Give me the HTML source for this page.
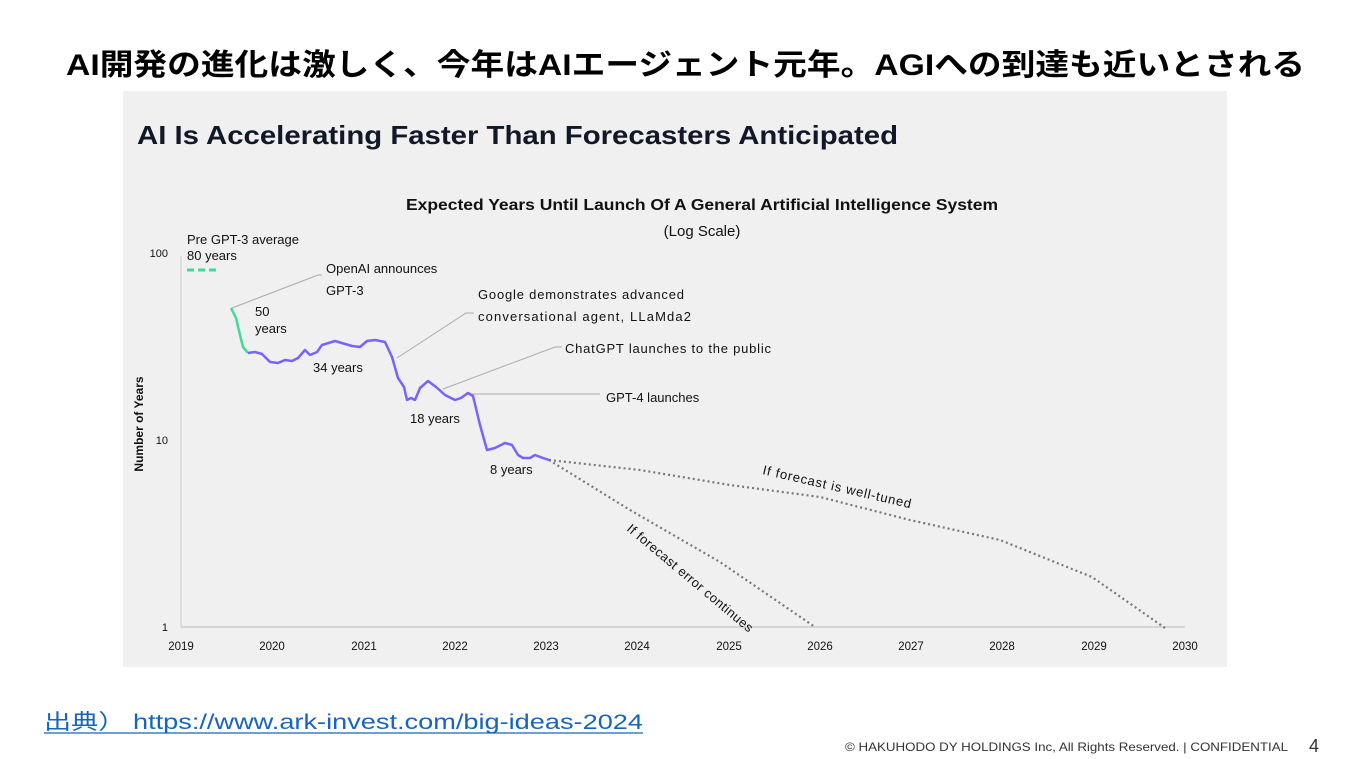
<!DOCTYPE html>
<html><head><meta charset="utf-8"><style>
body{margin:0;width:1350px;height:759px;background:#fff;position:relative;overflow:hidden;font-family:"Liberation Sans","Noto Sans CJK JP",sans-serif}
</style></head><body>
<svg style="position:absolute;left:0;top:0" width="1350" height="759" font-family="Liberation Sans, Noto Sans CJK JP, sans-serif">
<text x="66" y="75" font-size="30" font-weight="bold" fill="#000" textLength="1239" lengthAdjust="spacingAndGlyphs">AI開発の進化は激しく、今年はAIエージェント元年。AGIへの到達も近いとされる</text>
<rect x="123" y="91" width="1104" height="576" fill="#f0f0f0"/>
<text x="137" y="144" font-size="26" font-weight="bold" fill="#111827" textLength="761" lengthAdjust="spacingAndGlyphs">AI Is Accelerating Faster Than Forecasters Anticipated</text>
<text x="406" y="210" font-size="15.5" font-weight="bold" fill="#111" textLength="592" lengthAdjust="spacingAndGlyphs">Expected Years Until Launch Of A General Artificial Intelligence System</text>
<text x="702" y="236" font-size="15" fill="#111" text-anchor="middle">(Log Scale)</text>
<line x1="181" y1="256" x2="181" y2="627" stroke="#ccc" stroke-width="1"/>
<line x1="181" y1="627" x2="1185" y2="627" stroke="#ccc" stroke-width="1.5"/>
<g font-size="11" fill="#111" text-anchor="end"><text x="168" y="257">100</text><text x="168" y="444">10</text><text x="168" y="631">1</text></g>
<text transform="translate(143,424) rotate(-90)" font-size="12" font-weight="bold" fill="#111" text-anchor="middle">Number of Years</text>
<g font-size="11.5" fill="#111" text-anchor="middle">
<text x="181" y="650">2019</text><text x="272" y="650">2020</text><text x="364" y="650">2021</text><text x="455" y="650">2022</text><text x="546" y="650">2023</text><text x="637" y="650">2024</text><text x="729" y="650">2025</text><text x="820" y="650">2026</text><text x="911" y="650">2027</text><text x="1002" y="650">2028</text><text x="1094" y="650">2029</text><text x="1185" y="650">2030</text></g>
<g font-size="13" fill="#111">
<text x="187" y="244">Pre GPT-3 average</text><text x="187" y="260">80 years</text>
<text x="326" y="273">OpenAI announces</text><text x="326" y="295">GPT-3</text>
<text x="255" y="316">50</text><text x="255" y="333">years</text>
<text x="313" y="372">34 years</text>
<text x="478" y="299" textLength="206">Google demonstrates advanced</text><text x="478" y="321" textLength="213">conversational agent, LLaMda2</text>
<text x="565" y="353" textLength="206">ChatGPT launches to the public</text>
<text x="606" y="402">GPT-4 launches</text>
<text x="410" y="423">18 years</text>
<text x="490" y="474">8 years</text>
<text transform="translate(762,474) rotate(13)" textLength="152">If forecast is well-tuned</text>
<text transform="translate(626,530) rotate(40)" textLength="160">If forecast error continues</text>
</g>
<line x1="187" y1="270" x2="218" y2="270" stroke="#3ddc97" stroke-width="3" stroke-dasharray="7,4"/>
<g stroke="#aaa" stroke-width="1" fill="none">
<polyline points="232,308 318,275 322,275"/>
<polyline points="397,358 466,313 474,313"/>
<polyline points="443,389 555,347 562,347"/>
<polyline points="472,394 600,394"/>
</g>
<polyline points="231,308 236,318 240,335 243,347 248,353" fill="none" stroke="#3ddc97" stroke-width="2.5"/>
<polyline points="248,353 255,352 262,354 270,362 278,363 285,360 292,361 298,358 305,350 310,355 317,352 322,345 335,341 352,346 360,347 367,341 375,340 385,342 392,357 398,378 404,387 407,400 411,398 415,400 420,388 428,381 436,387 445,395 455,400 461,398 468,393 473,396 480,425 487,450 495,448 505,443 512,445 518,455 523,458 530,458 535,455 543,458 549,460" fill="none" stroke="#7b61ff" stroke-width="2.5" stroke-linejoin="round"/>
<g fill="none" stroke="#777" stroke-width="2.2" stroke-dasharray="2,3">
<polyline points="549,460 640,470 730,485 820,497 910,520 1000,540 1092,577 1165,628"/>
<polyline points="549,460 630,510 720,562 815,627"/>
</g>
<text x="44" y="729" font-size="21" fill="#1565c0" textLength="599" lengthAdjust="spacingAndGlyphs">出典）&#160;https://www.ark-invest.com/big-ideas-2024</text>
<line x1="44" y1="733" x2="643" y2="733" stroke="#1565c0" stroke-width="1.3"/>
<text x="845" y="751" font-size="12" fill="#333" textLength="443" lengthAdjust="spacingAndGlyphs">© HAKUHODO DY HOLDINGS Inc, All Rights Reserved. | CONFIDENTIAL</text>
<text x="1309" y="752" font-size="18" fill="#333">4</text>
</svg>
</body></html>
